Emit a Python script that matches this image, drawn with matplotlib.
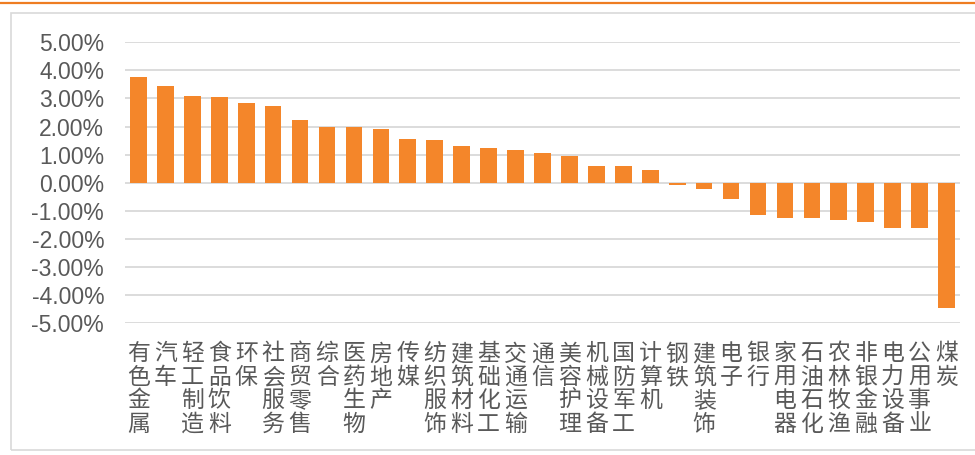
import matplotlib.pyplot as plt
from matplotlib.patches import Rectangle
from matplotlib.lines import Line2D

# 申万一级行业周涨跌幅
industries = ['有色金属', '汽车', '轻工制造', '食品饮料', '环保', '社会服务', '商贸零售',
              '综合', '医药生物', '房地产', '传媒', '纺织服饰', '建筑材料', '基础化工',
              '交通运输', '通信', '美容护理', '机械设备', '国防军工', '计算机', '钢铁',
              '建筑装饰', '电子', '银行', '家用电器', '石油石化', '农林牧渔', '非银金融',
              '电力设备', '公用事业', '煤炭']
returns = [3.75, 3.44, 3.10, 3.05, 2.84, 2.72, 2.24, 2.00, 1.97, 1.91, 1.56, 1.52,
           1.32, 1.24, 1.16, 1.07, 0.95, 0.59, 0.58, 0.44, -0.08, -0.23, -0.59,
           -1.14, -1.25, -1.27, -1.32, -1.40, -1.62, -1.63, -4.45]
yticks = [5, 4, 3, 2, 1, 0, -1, -2, -3, -4, -5]

W, H = 975, 455
fig = plt.figure(figsize=(W / 100, H / 100), dpi=100)
ax = fig.add_axes([125 / W, 1 - 323 / H, 835 / W, 280.7 / H])

bar_color = '#F4862A'
grid_color = '#D9D9D9'
text_color = '#595959'

x = range(len(industries))
ax.bar(x, returns, width=0.62, color=bar_color, zorder=3)

ax.set_xlim(-0.5, len(industries) - 0.5)
ax.set_ylim(-5, 5)
ax.set_yticks(yticks)
ax.set_yticklabels([f'{v:.2f}%' for v in yticks], family='Liberation Sans',
                   fontsize=16.5, color=text_color)
for v in yticks:
    ax.axhline(v, color=grid_color, lw=1.3, zorder=1)

ax.set_xticks(list(x))
ax.set_xticklabels(['\n'.join(n) for n in industries], family='Noto Sans CJK SC',
                   fontsize=16.5, color=text_color, linespacing=1.02, va='top')
ax.tick_params(axis='both', length=0)
ax.tick_params(axis='y', pad=15)
ax.tick_params(axis='x', pad=14)
for s in ax.spines.values():
    s.set_visible(False)

# 外框和顶部橙色线
fig.add_artist(Rectangle((11 / W, 1 - 450 / H), 1.0, (450 - 13) / H,
                         transform=fig.transFigure, fill=False,
                         edgecolor=grid_color, lw=1.2))
fig.add_artist(Line2D([0, 1], [1 - 3 / H, 1 - 3 / H], transform=fig.transFigure,
                      color='#EE7D22', lw=1.6))

fig.savefig('out.png', dpi=100)
